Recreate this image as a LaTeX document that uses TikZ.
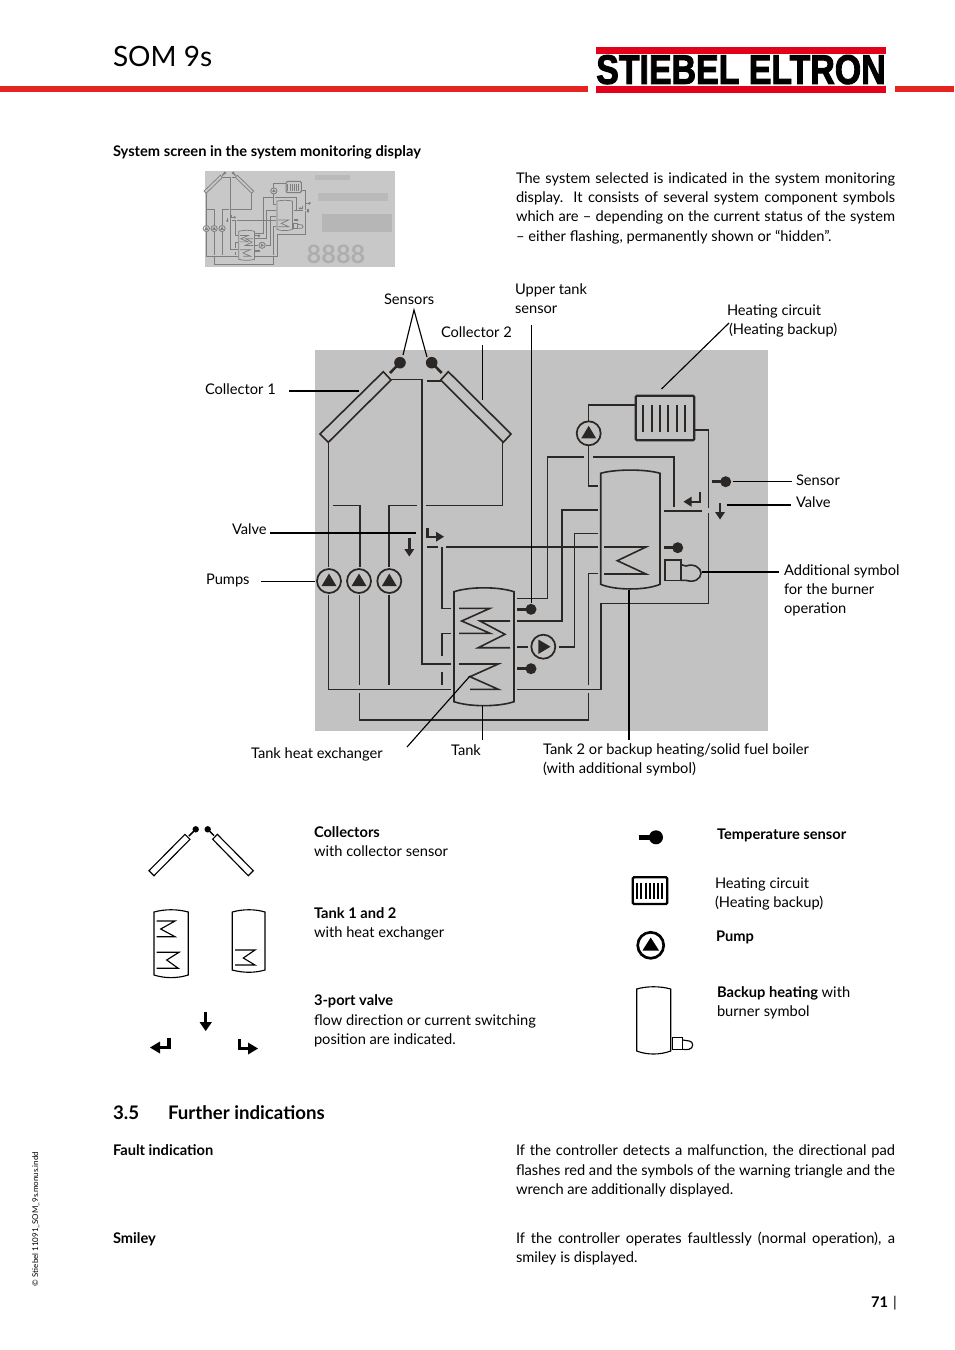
\documentclass[tikz,border=0pt]{standalone}
\usepackage{graphicx}
\usepackage{fontspec}
\setmainfont{Lato}
\newfontfamily\logofont[BoldFeatures={FakeBold=2.5}]{Liberation Sans}
\definecolor{pagered}{HTML}{E3241F}
\definecolor{logored}{HTML}{E2001A}
\definecolor{panel}{HTML}{C2C2C2}
\definecolor{pipe}{HTML}{2B2725}
\definecolor{thumbbg}{HTML}{C8C8C8}
\definecolor{thumbline}{HTML}{7E7E7E}
\tikzset{
  x=0.75pt,y=-0.75pt,
  txt/.style={anchor=base west,inner sep=0pt,outer sep=0pt,font=\fontsize{11}{13}\selectfont,text=black},
  hd/.style={txt,font=\fontsize{11}{13}\selectfont\bfseries},
  lead/.style={draw=black,line width=0.85pt},
  pipeline/.style={draw=\schemcol,line width=\schemlw,line join=miter},
  thinsym/.style={draw=black,line width=0.85pt},
}
\newcommand{\schemcol}{pipe}
\newcommand{\schemlw}{1.2pt}
% helper: pump with triangle up
\newcommand{\pumpup}[3]{%
  \draw[draw=\schemcol,line width=\schemlw*1.1] (#1,#2) circle (#3);
  \fill[\schemcol] ({#1-0.62*#3},{#2+0.42*#3}) -- ({#1+0.62*#3},{#2+0.42*#3}) -- (#1,{#2-0.62*#3}) -- cycle;}
\newcommand{\sensorsym}[4]{% x1 y from, x2 center
  \draw[draw=\schemcol,line width=\schemlw*1.9] (#1,#2) -- (#3,#2);
  \fill[\schemcol] (#3,#2) circle (#4);}
\newcommand{\schem}{%
  % collectors
  \draw[pipeline] (383.3,371.7) -- (391,380) -- (328.3,442.3) -- (320,434) -- cycle;
  \draw[pipeline] (448.3,371.7) -- (440.7,380) -- (503.3,442.3) -- (511,434) -- cycle;
  \fill[\schemcol] (400,362.7) circle (5.8);
  \draw[draw=\schemcol,line width=\schemlw*1.6] (400,362.7) -- (390,373);
  \fill[\schemcol] (431.7,362.7) circle (5.8);
  \draw[draw=\schemcol,line width=\schemlw*1.6] (431.7,362.7) -- (441.7,373);
  % collector loop
  \draw[pipeline] (391,379.3) -- (421.7,379.3) -- (421.7,664) -- (450.7,664);
  \draw[pipeline] (426.7,380.7) -- (440.7,380.7);
  \draw[pipeline] (328.3,442.3) -- (328.3,566.7);
  \draw[pipeline] (328.3,595) -- (328.3,689.3) -- (450.7,689.3);
  \draw[pipeline] (332.7,505.3) -- (360,505.3) -- (360,566.7);
  \draw[pipeline] (359.3,595) -- (359.3,685);
  \draw[pipeline] (359.3,693.3) -- (359.3,720) -- (588.3,720) -- (588.3,693.3);
  \draw[pipeline] (588.3,685) -- (588.3,573.3) -- (597.7,573.3);
  \draw[pipeline] (389,566.7) -- (389,505.3) -- (417.3,505.3);
  \draw[pipeline] (425.7,505.3) -- (502.3,505.3) -- (502.3,442.3);
  \draw[pipeline] (389,595) -- (389,685);
  \pumpup{329}{581}{12}
  \pumpup{359}{581}{12}
  \pumpup{389.3}{581}{12}
  % valve left
  \draw[draw=\schemcol,line width=\schemlw*1.5] (409.3,538) -- (409.3,552);
  \fill[\schemcol] (404.3,549) -- (414.3,549) -- (409.3,556.5) -- cycle;
  \draw[draw=\schemcol,line width=\schemlw*1.5] (427.3,528.3) -- (427.3,536.7) -- (438,536.7);
  \fill[\schemcol] (436,531.7) -- (436,541.7) -- (444,536.7) -- cycle;
  % horizontal pipe to tank 2
  \draw[pipeline] (426.7,547) -- (438.3,547);
  \draw[pipeline] (445.7,547) -- (598.3,547);
  \draw[pipeline] (441.7,547) -- (441.7,608.3) -- (450.7,608.3);
  \draw[pipeline] (450.7,633.3) -- (441.7,633.3) -- (441.7,656);
  \draw[pipeline] (441.7,672) -- (441.7,685);
  % tank 1
  \draw[pipeline] (454,591.7) .. controls (470,586.5) and (498,586.5) .. (514,591.7) -- (514,701.7) .. controls (498,707) and (470,707) .. (454,701.7) -- cycle;
  \draw[pipeline] (459,608.3) -- (490,608.3) -- (461.7,621) -- (490,633.3) -- (459,633.3);
  \draw[pipeline] (510,621) -- (480,621) -- (505,634.3) -- (478.3,647.7) -- (510,647.7);
  \draw[pipeline] (459,664) -- (498.3,664) -- (470,676.7) -- (498.3,689.3) -- (470,689.3);
  % right of tank 1
  \sensorsym{517.3}{609.3}{531}{5.5}
  \sensorsym{517.3}{668.7}{531}{5.5}
  \draw[pipeline] (517.3,598.3) -- (547.3,598.3) -- (547.3,456.7) -- (584,456.7);
  \draw[pipeline] (593.3,456.7) -- (674,456.7) -- (674,506.7);
  \draw[pipeline] (517.3,621) -- (561.7,621) -- (561.7,510) -- (597.7,510);
  \draw[pipeline] (517.3,646.7) -- (528.3,646.7);
  \draw[pipeline] (559.3,646.7) -- (574.3,646.7) -- (574.3,533.3) -- (597.7,533.3);
  \draw[draw=\schemcol,line width=\schemlw*1.1] (543.3,646.7) circle (12);
  \fill[\schemcol] (538.3,639.5) -- (538.3,654) -- (550.5,646.7) -- cycle;
  \draw[pipeline] (517.3,689.3) -- (601,689.3) -- (601,603.3) -- (708.3,603.3) -- (708.3,513.3);
  \draw[pipeline] (708.3,507.5) -- (708.3,430) -- (695,430);
  \draw[pipeline] (664.3,510.7) -- (702.3,510.7);
  % radiator
  \draw[draw=\schemcol,line width=\schemlw*1.4,rounded corners=1pt] (635.7,395.7) rectangle (694.3,440.3);
  \foreach \bx in {643,651.7,660,668.3,676.7,685}{\draw[draw=\schemcol,line width=\schemlw*1.4] (\bx,405) -- (\bx,431.7);}
  \draw[pipeline] (635.7,405) -- (588.3,405) -- (588.3,421.7);
  \pumpup{588.7}{433.3}{12}
  \draw[pipeline] (588.3,445) -- (588.3,485.7) -- (597.7,485.7);
  % tank 2
  \draw[pipeline] (600.7,473.3) .. controls (615,469) and (646,469) .. (660,473.3) -- (660,584.3) .. controls (646,590.5) and (615,590.5) .. (600.7,584.3) -- cycle;
  \draw[pipeline] (604,547) -- (646,547) -- (617.3,560.7) -- (646,574) -- (604,574);
  \sensorsym{664.3}{547.7}{677.7}{5.5}
  % burner
  \draw[pipeline] (665,560) rectangle (680.7,580.3);
  \draw[pipeline] (680.7,564.5) .. controls (684,566) .. (686,566) .. controls (694,563) and (701,568) .. (701,573) .. controls (701,579) and (694,583) .. (686,580.3) -- (680.7,580.3);
  % upper-right valve
  \draw[draw=\schemcol,line width=\schemlw*1.5] (700,491.7) -- (700,501.7) -- (690,501.7);
  \fill[\schemcol] (691.5,496.7) -- (691.5,506.7) -- (683.5,501.7) -- cycle;
  \draw[draw=\schemcol,line width=\schemlw*1.5] (720,503) -- (720,515);
  \fill[\schemcol] (715,512) -- (725,512) -- (720,519.5) -- cycle;
  \sensorsym{711.7}{481.7}{725.7}{5.5}
}
\begin{document}
\begin{tikzpicture}
\useasboundingbox (0,0) rectangle (954,1350);
% header
\fill[pagered] (0,86.3) rectangle (588,91.8);
\fill[pagered] (895,86.3) rectangle (954,91.8);
\fill[logored] (596,46.7) rectangle (885.5,54);
\fill[logored] (596,86) rectangle (885.5,92.7);
\node[inner sep=0pt,anchor=south west] (logo) at (596,84.5) {\resizebox{217pt}{21.6pt}{\logofont\bfseries STIEBEL ELTRON}};
\node[txt,font=\fontsize{21}{25}\selectfont] (title) at (113,66) {SOM 9s};
% heading and intro
\node[hd] (h1) at (113,156) {System screen in the system monitoring display};
% thumbnail
\fill[thumbbg] (205,171) rectangle (395,267);
\node[anchor=center,inner sep=0pt,font=\fontsize{19}{20}\selectfont\bfseries,text=black!13!thumbbg] (lcd) at (336,254.5) {8888};
\fill[black!7!thumbbg] (315,175) rectangle (350,180);
\fill[black!7!thumbbg] (318,193) rectangle (388,201);
\fill[black!9!thumbbg] (322,214) rectangle (392,232);
\begin{scope}[shift={(204,171)},x=0.195pt,y=-0.191pt]
\renewcommand{\schemcol}{thumbline}
\renewcommand{\schemlw}{0.55pt}
\begin{scope}[shift={(-320,-355)}]
\schem
\end{scope}
\end{scope}
% intro paragraph
\node[txt] (p1) at (516,183) {\makebox[284.3pt][s]{The system selected is indicated in the system monitoring}};
\node[txt] (p2) at (516,202) {\makebox[284.3pt][s]{display. It consists of several system component symbols}};
\node[txt] (p3) at (516,221) {\makebox[284.3pt][s]{which are -- depending on the current status of the system}};
\node[txt] (p4) at (516,241) {-- either flashing, permanently shown or “hidden”.};
% main diagram panel
\fill[panel] (315,350) rectangle (768,731);
\schem
% leaders
\coordinate (sv) at (414,310);
\coordinate (s1) at (403,355);
\coordinate (s2) at (427,357);
\draw[lead] (s1) -- (sv) -- (s2);
\coordinate (c1a) at (289,391); \coordinate (c1b) at (359,391);
\draw[lead] (c1a) -- (c1b);
\coordinate (c2a) at (482.7,345); \coordinate (c2b) at (482.7,400);
\draw[lead] (c2a) -- (c2b);
\coordinate (uta) at (531.7,325); \coordinate (utb) at (531.7,603);
\draw[lead] (uta) -- (utb);
\coordinate (hca) at (729,323); \coordinate (hcb) at (661.5,389);
\draw[lead] (hca) -- (hcb);
\coordinate (sa) at (732.7,481.7); \coordinate (sb) at (792,481.7);
\draw[lead] (sa) -- (sb);
\coordinate (va) at (726.7,505); \coordinate (vb) at (791,505);
\draw[lead] (va) -- (vb);
\coordinate (ba) at (701.7,572); \coordinate (bb) at (779,572);
\draw[lead] (ba) -- (bb);
\coordinate (vla) at (270,533); \coordinate (vlb) at (416,533);
\draw[lead] (vla) -- (vlb);
\coordinate (pa) at (261,581.5); \coordinate (pb) at (315,581.5);
\draw[lead] (pa) -- (pb);
\coordinate (ta) at (482.7,705.5); \coordinate (tb) at (482.7,740);
\draw[lead] (ta) -- (tb);
\coordinate (t2a) at (629,590); \coordinate (t2b) at (629,740);
\draw[lead] (t2a) -- (t2b);
\coordinate (thx) at (407,747); \coordinate (thy) at (470,676);
\draw[lead] (thx) -- (thy);
% diagram labels
\node[txt] (l1) at (384,304) {Sensors};
\node[txt] (l2) at (515,294) {Upper tank};
\node[txt] (l3) at (515,313) {sensor};
\node[txt] (l4) at (441,337) {Collector 2};
\node[txt] (l5) at (727,315) {Heating circuit};
\node[txt] (l6) at (729,334) {(Heating backup)};
\node[txt] (l7) at (205,394) {Collector 1};
\node[txt] (l8) at (796,485) {Sensor};
\node[txt] (l9) at (796,507) {Valve};
\node[txt] (l10) at (784,575) {Additional symbol};
\node[txt] (l11) at (784,594) {for the burner};
\node[txt] (l12) at (784,613) {operation};
\node[txt] (l13) at (232,534) {Valve};
\node[txt] (l14) at (206,584) {Pumps};
\node[txt] (l15) at (251,758) {Tank heat exchanger};
\node[txt] (l16) at (451,755) {Tank};
\node[txt] (l17) at (543,754) {Tank 2 or backup heating/solid fuel boiler};
\node[txt] (l18) at (543,773) {(with additional symbol)};
% legend symbols left
\draw[thinsym] (185,834.3) -- (190,839.3) -- (154,875.7) -- (149,870.7) -- cycle;
\draw[thinsym] (217.3,834.3) -- (212.7,839.3) -- (248.3,875.7) -- (253.3,870.7) -- cycle;
\fill[black] (195.7,829.3) circle (3.2);
\fill[black] (207.7,829.3) circle (3.2);
\draw[black,line width=1.1pt] (195.7,829.3) -- (189,836);
\draw[black,line width=1.1pt] (207.7,829.3) -- (214,835.7);
\draw[thinsym] (154,912) .. controls (165,909) and (177,909) .. (188.3,912) -- (188.3,975) .. controls (177,978.5) and (165,978.5) .. (154,975) -- cycle;
\draw[thinsym] (156.7,921) -- (175,921) -- (160.7,929) -- (175,936.7) -- (156.7,936.7);
\draw[thinsym] (156.7,952.3) -- (179,952.3) -- (166.7,960) -- (178.3,968.3) -- (156.7,968.3);
\draw[thinsym] (232.3,912) .. controls (243,909) and (255,909) .. (265,912) -- (265,970) .. controls (255,973) and (243,973) .. (232.3,970) -- cycle;
\draw[thinsym] (235,950) -- (255,950) -- (243.3,958) -- (255,965) -- (235,965);
% legend valves
\draw[black,line width=2.4pt] (205.7,1012) -- (205.7,1024);
\fill[black] (199.5,1022) -- (212,1022) -- (205.7,1031) -- cycle;
\draw[black,line width=2.4pt] (169,1038) -- (169,1047.5) -- (158,1047.5);
\fill[black] (160,1041.5) -- (160,1053.5) -- (150,1047.5) -- cycle;
\draw[black,line width=2.4pt] (239.5,1039) -- (239.5,1048.5) -- (250,1048.5);
\fill[black] (248,1042.5) -- (248,1054.5) -- (258,1048.5) -- cycle;
% legend symbols right
\draw[black,line width=3.4pt] (639.3,837.3) -- (652,837.3);
\fill[black] (656,837.3) circle (7);
\draw[black,line width=1.7pt,rounded corners=1pt] (632.7,877.3) rectangle (667.3,904);
\foreach \bx in {637.2,641.4,645.6,649.8,654,658.2,662.4}{\draw[black,line width=1.5pt] (\bx,882.5) -- (\bx,899);}
\draw[black,line width=2pt] (650.7,945.3) circle (13);
\fill[black] (642.5,950.5) -- (659,950.5) -- (650.7,937.5) -- cycle;
\draw[thinsym] (636.7,989) .. controls (647,986) and (660,986) .. (670.7,989) -- (670.7,1051) .. controls (660,1055) and (647,1055) .. (636.7,1051) -- cycle;
\draw[thinsym] (672.7,1037.3) rectangle (682.7,1049.3);
\draw[thinsym] (682.7,1040) .. controls (687,1041) and (692.7,1040) .. (692.7,1045) .. controls (692.7,1050) and (686,1050) .. (682.7,1049.3);
% legend text
\node[hd] (a1) at (314,837) {Collectors};
\node[txt] (a2) at (314,856) {with collector sensor};
\node[hd] (a3) at (314,918) {Tank 1 and 2};
\node[txt] (a4) at (314,937) {with heat exchanger};
\node[hd] (a5) at (314,1005) {3-port valve};
\node[txt] (a6) at (314,1025) {flow direction or current switching};
\node[txt] (a7) at (314,1044) {position are indicated.};
\node[hd] (b1) at (717,839) {Temperature sensor};
\node[txt] (b2) at (715,888) {Heating circuit};
\node[txt] (b3) at (715,907) {(Heating backup)};
\node[hd] (b4) at (716,941) {Pump};
\node[txt] (b5) at (717,997) {\textbf{Backup heating} with};
\node[txt] (b6) at (717,1016) {burner symbol};
% section
\node[hd,font=\fontsize{14}{16}\selectfont\bfseries] (s35) at (113,1119) {3.5};
\node[hd,font=\fontsize{14}{16}\selectfont\bfseries] (sf) at (168,1119) {Further indications};
\node[hd] (f1) at (113,1155) {Fault indication};
\node[txt] (f2) at (516,1155) {\makebox[284.3pt][s]{If the controller detects a malfunction, the directional pad}};
\node[txt] (f3) at (516,1175) {\makebox[284.3pt][s]{flashes red and the symbols of the warning triangle and the}};
\node[txt] (f4) at (516,1194) {wrench are additionally displayed.};
\node[hd] (g1) at (113,1243) {Smiley};
\node[txt] (g2) at (516,1243) {\makebox[284.3pt][s]{If the controller operates faultlessly (normal operation), a}};
\node[txt] (g3) at (516,1262) {smiley is displayed.};
\node[hd] (pg) at (871,1307) {71};
\node[txt] (bar) at (893,1307) {|};
\node[txt,rotate=90,font=\fontsize{6}{7}\selectfont] (cp) at (38,1286) {© Stiebel 11091\_SOM\_9s.monus.indd};
\end{tikzpicture}
\end{document}
